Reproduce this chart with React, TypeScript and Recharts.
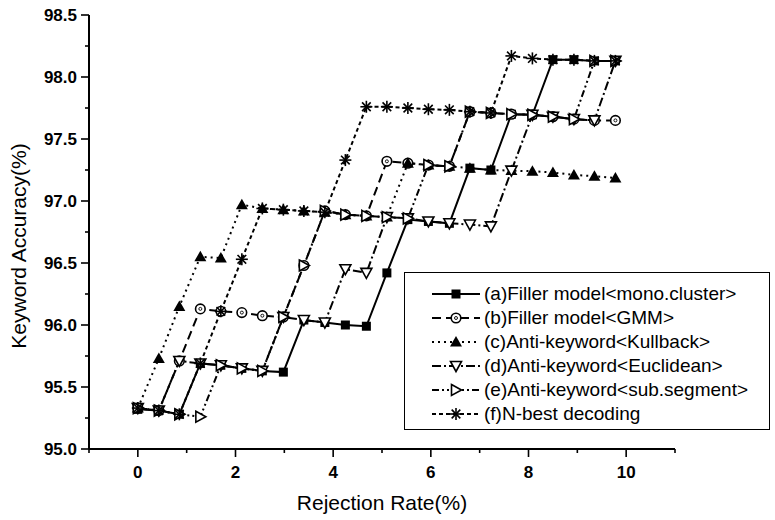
import React from 'react';
import { LineChart, Line, XAxis, YAxis, Legend } from 'recharts';

// ---- data ----
const RATE = [0, 0.43, 0.85, 1.28, 1.7, 2.13, 2.55, 2.98, 3.4, 3.83, 4.25, 4.68, 5.1, 5.53, 5.95, 6.38, 6.8, 7.23, 7.65, 8.08, 8.5, 8.93, 9.35, 9.78];
const FILLER_MONO = [95.32, 95.31, 95.28, 95.69, 95.675, 95.65, 95.63, 95.62, 96.04, 96.02, 96.0, 95.99, 96.42, 96.85, 96.835, 96.82, 97.265, 97.25, 97.7, 97.695, 98.14, 98.14, 98.13, 98.13];
const FILLER_GMM = [95.33, 95.31, 95.71, 96.13, 96.11, 96.1, 96.075, 96.065, 96.48, 96.92, 96.89, 96.88, 97.32, 97.305, 97.29, 97.28, 97.72, 97.71, 97.7, 97.695, 97.68, 97.66, 97.65, 97.65];
const ANTI_KULLBACK = [95.33, 95.73, 96.15, 96.55, 96.54, 96.97, 96.94, 96.93, 96.92, 96.91, 96.89, 96.88, 96.87, 97.305, 97.29, 97.28, 97.265, 97.25, 97.245, 97.24, 97.23, 97.21, 97.2, 97.185];
const ANTI_EUCLID = [95.33, 95.31, 95.71, 95.69, 95.675, 95.65, 95.63, 96.065, 96.04, 96.02, 96.45, 96.42, 96.87, 96.86, 96.835, 96.82, 96.81, 96.795, 97.245, 97.695, 97.68, 97.66, 97.65, 98.13];
const ANTI_SUBSEG = [95.33, 95.31, 95.28, 95.26, 95.675, 95.65, 95.63, 96.065, 96.48, 96.92, 96.89, 96.88, 96.87, 96.86, 97.29, 97.28, 97.72, 97.71, 97.7, 97.695, 97.68, 97.66, 98.13, 98.13];
const NBEST = [95.33, 95.31, 95.28, 95.69, 96.11, 96.53, 96.94, 96.93, 96.92, 96.91, 97.33, 97.76, 97.76, 97.75, 97.74, 97.735, 97.72, 97.71, 98.17, 98.15, 98.14, 98.14, 98.13, 98.13];

const SERIES_NAMES = [
  '(a)Filler model<mono.cluster>',
  '(b)Filler model<GMM>',
  '(c)Anti-keyword<Kullback>',
  '(d)Anti-keyword<Euclidean>',
  '(e)Anti-keyword<sub.segment>',
  '(f)N-best decoding',
];
const SERIES_VALUES = [FILLER_MONO, FILLER_GMM, ANTI_KULLBACK, ANTI_EUCLID, ANTI_SUBSEG, NBEST];
const X_TICKS = [-1, 0, 1, 2, 3, 4, 5, 6, 7, 8, 9, 10, 11];
const X_LABELS = [0, 2, 4, 6, 8, 10];
const Y_TICKS = [95, 95.25, 95.5, 95.75, 96, 96.25, 96.5, 96.75, 97, 97.25, 97.5, 97.75, 98, 98.25, 98.5];
const Y_LABELS = [95, 95.5, 96, 96.5, 97, 97.5, 98, 98.5];

// ---- styles ----
const KEYS = ['a', 'b', 'c', 'd', 'e', 'f'];
const MARKERS = ['square', 'circle', 'up', 'down', 'right', 'star'];
const DASHES = [undefined, '9 5', '2 4', '9 3 2 3', '7 3 2 3 2 3', '4 3'];
const FONT = '"Liberation Sans", Arial, Helvetica, sans-serif';

const data = RATE.map((x, i) => {
  const row: any = { x };
  KEYS.forEach((k, j) => { row[k] = SERIES_VALUES[j][i]; });
  return row;
});

const W = 775, H = 520;
const M = { top: 15, right: 100, bottom: 21, left: 29 };
const YW = 60, XH = 50;
const AXIS_X = M.left + YW;
const AXIS_Y = H - M.bottom - XH;

function Marker({ kind, cx, cy }: { kind: string; cx: number; cy: number }) {
  const sw = 1.6;
  switch (kind) {
    case 'square':
      return <rect x={cx - 4.5} y={cy - 4.5} width={9} height={9} fill="#000" />;
    case 'circle':
      return (
        <g>
          <circle cx={cx} cy={cy} r={4.8} fill="#fff" stroke="#000" strokeWidth={sw} />
          <circle cx={cx} cy={cy} r={1.5} fill="none" stroke="#000" strokeWidth={0.9} />
        </g>
      );
    case 'up':
      return <polygon points={`${cx},${cy - 6} ${cx + 6},${cy + 4.5} ${cx - 6},${cy + 4.5}`} fill="#000" />;
    case 'down':
      return <polygon points={`${cx - 5.5},${cy - 4.5} ${cx + 5.5},${cy - 4.5} ${cx},${cy + 5.5}`} fill="#fff" stroke="#000" strokeWidth={sw} />;
    case 'right':
      return <polygon points={`${cx - 4.5},${cy - 5.5} ${cx + 5.5},${cy} ${cx - 4.5},${cy + 5.5}`} fill="#fff" stroke="#000" strokeWidth={sw} />;
    case 'star': {
      const r = 6, d = r * 0.72;
      return (
        <g stroke="#000" strokeWidth={sw}>
          <line x1={cx} y1={cy - r} x2={cx} y2={cy + r} />
          <line x1={cx - r} y1={cy} x2={cx + r} y2={cy} />
          <line x1={cx - d} y1={cy - d} x2={cx + d} y2={cy + d} />
          <line x1={cx - d} y1={cy + d} x2={cx + d} y2={cy - d} />
        </g>
      );
    }
    default:
      return null;
  }
}

const YTick = (p: any) => {
  const v = p.payload.value;
  const major = Y_LABELS.some((l) => Math.abs(l - v) < 1e-6);
  const len = major ? 8 : 4;
  return (
    <g>
      <line x1={AXIS_X} x2={AXIS_X - len} y1={p.y} y2={p.y} stroke="#000" strokeWidth={1.6} />
      {major && (
        <text x={AXIS_X - 12} y={p.y + 6} textAnchor="end" fontFamily={FONT} fontWeight="bold" fontSize={17} fill="#000">
          {v.toFixed(1)}
        </text>
      )}
    </g>
  );
};

const XTick = (p: any) => {
  const v = p.payload.value;
  const major = X_LABELS.indexOf(v) >= 0;
  const len = major ? 8 : 4;
  return (
    <g>
      <line x1={p.x} x2={p.x} y1={AXIS_Y} y2={AXIS_Y + len} stroke="#000" strokeWidth={1.6} />
      {major && (
        <text x={p.x} y={AXIS_Y + 29} textAnchor="middle" fontFamily={FONT} fontWeight="bold" fontSize={17} fill="#000">
          {v}
        </text>
      )}
    </g>
  );
};

const LegendBox = () => (
  <div
    style={{
      position: 'relative',
      boxSizing: 'border-box',
      width: 366,
      height: 158,
      border: '1.5px solid #000',
      background: '#fff',
    }}
  >
    {SERIES_NAMES.map((name, i) => (
      <div key={name} style={{ position: 'absolute', left: 26, top: 10 + 24 * i, height: 22, display: 'flex', alignItems: 'center', whiteSpace: 'nowrap' }}>
        <svg width={50} height={22} style={{ display: 'block' }}>
          <line x1={1} x2={49} y1={11} y2={11} stroke="#000" strokeWidth={2} strokeDasharray={DASHES[i]} />
          <Marker kind={MARKERS[i]} cx={25} cy={11} />
        </svg>
        <span style={{ fontFamily: FONT, fontSize: 19, color: '#000', marginLeft: 3, lineHeight: '22px' }}>{name}</span>
      </div>
    ))}
  </div>
);

export default function App() {
  return (
    <div style={{ position: 'absolute', left: 0, top: 0, width: W, height: H, background: '#fff' }}>
      <LineChart width={W} height={H} data={data} margin={M}>
        <XAxis
          type="number"
          dataKey="x"
          domain={[-1, 11]}
          ticks={X_TICKS}
          interval={0}
          height={XH}
          tickLine={false}
          axisLine={{ stroke: '#000', strokeWidth: 2 }}
          tick={XTick}
          label={{
            content: () => (
              <text x={382} y={510} textAnchor="middle" fontFamily={FONT} fontSize={21} fill="#000">
                Rejection Rate(%)
              </text>
            ),
          }}
        />
        <YAxis
          type="number"
          domain={[95, 98.5]}
          ticks={Y_TICKS}
          interval={0}
          width={YW}
          tickLine={false}
          axisLine={{ stroke: '#000', strokeWidth: 2 }}
          tick={YTick}
          label={{
            content: () => (
              <text x={26} y={246} transform="rotate(-90 26 246)" textAnchor="middle" fontFamily={FONT} fontSize={21} fill="#000">
                Keyword Accuracy(%)
              </text>
            ),
          }}
        />
        <Legend
          layout="vertical"
          align="center"
          verticalAlign="middle"
          content={() => <LegendBox />}
          wrapperStyle={{ left: 404, top: 272, width: 366, height: 158 }}
        />
        {KEYS.map((k, i) => (
          <Line
            key={k}
            type="linear"
            dataKey={k}
            name={SERIES_NAMES[i]}
            stroke="#000"
            strokeWidth={2}
            strokeDasharray={DASHES[i]}
            isAnimationActive={false}
            activeDot={false}
            dot={(p: any) => <Marker key={`${k}-${p.index}`} kind={MARKERS[i]} cx={p.cx} cy={p.cy} />}
          />
        ))}
      </LineChart>
    </div>
  );
}
